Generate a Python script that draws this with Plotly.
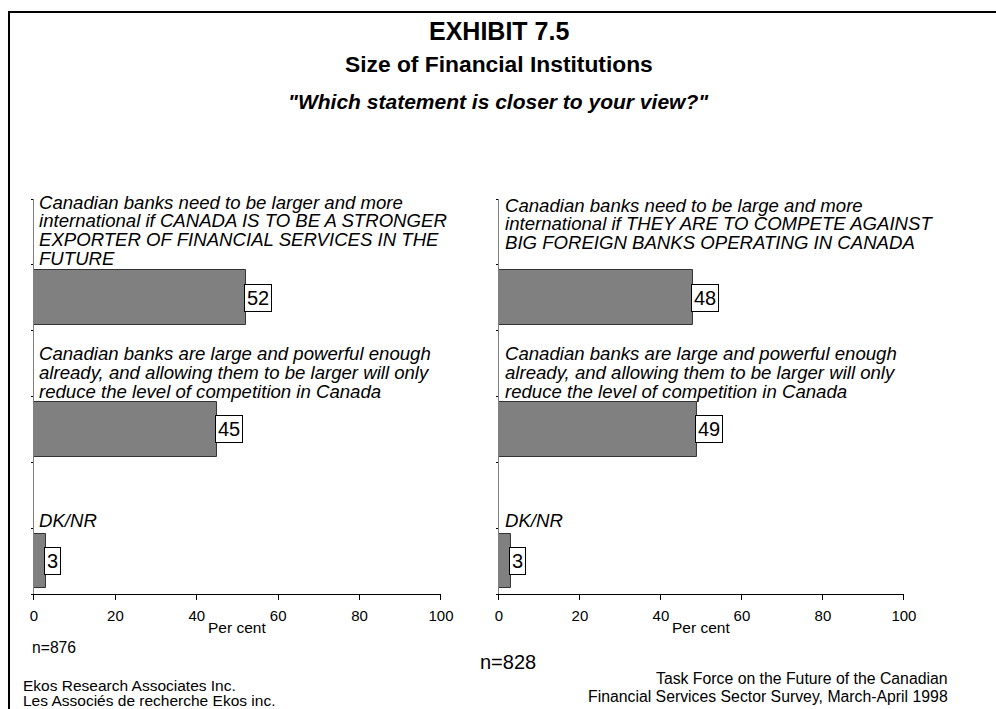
import plotly.graph_objects as go

# ---------------- data ----------------
left_labels = [
    ["Canadian banks need to be larger and more",
     "international if CANADA IS TO BE A STRONGER",
     "EXPORTER OF FINANCIAL SERVICES IN THE",
     "FUTURE"],
    ["Canadian banks are large and powerful enough",
     "already, and allowing them to be larger will only",
     "reduce the level of competition in Canada"],
    ["DK/NR"],
]
left_values = [52, 45, 3]

right_labels = [
    ["Canadian banks need to be large and more",
     "international if THEY ARE TO COMPETE AGAINST",
     "BIG FOREIGN BANKS OPERATING IN CANADA"],
    ["Canadian banks are large and powerful enough",
     "already, and allowing them to be larger will only",
     "reduce the level of competition in Canada"],
    ["DK/NR"],
]
right_values = [48, 49, 3]

x_ticks = [0, 20, 40, 60, 80, 100]
left_n = "n=876"
right_n = "n=828"
title_lines = ["EXHIBIT 7.5", "Size of Financial Institutions"]
subtitle = "\"Which statement is closer to your view?\""
source_right = ["Task Force on the Future of the Canadian",
                "Financial Services Sector Survey, March-April 1998"]
source_left = ["Ekos Research Associates Inc.",
               "Les Associés de recherche Ekos inc."]

# ---------------- layout helpers ----------------
W, H = 996, 709
FONT = "Liberation Sans, Arial, sans-serif"
HS = 0.983   # horizontal scale observed in the rendered photo
HO = 3.0     # horizontal offset observed in the rendered photo


def px(x):
    """target horizontal pixel -> paper coordinate"""
    return ((x - HO) / HS) / W


def py(y):
    return 1 - y / H


bar_pos = [1.5, 3.5, 5.5]          # slot centres (label slot above each bar)
slot_tops = [0, 2, 4]
line_step = 18.7

fig = go.Figure()

panels = [
    ("x", "y", left_values, left_labels, [3, 23, 58], 3),
    ("x2", "y2", right_values, right_labels, [6, 23, 58], 4),
]

annotations = []
for xa, ya, vals, labels, offs, xsh in panels:
    fig.add_trace(go.Bar(
        x=vals, y=bar_pos, orientation="h", width=0.83,
        marker=dict(color="#808080", line=dict(color="#333333", width=1)),
        xaxis=xa, yaxis=ya, showlegend=False, hoverinfo="x",
    ))
    for v, yc in zip(vals, bar_pos):
        annotations.append(dict(
            x=v, y=yc, xref=xa, yref=ya, xanchor="left", yanchor="middle",
            xshift=-2, text=str(v), showarrow=False,
            font=dict(family=FONT, size=20, color="black"),
            bgcolor="white", bordercolor="black", borderwidth=1, borderpad=2,
        ))
    for lines, top, off in zip(labels, slot_tops, offs):
        for i, ln in enumerate(lines):
            annotations.append(dict(
                x=0, y=top, xref=xa, yref=ya, xanchor="left", yanchor="middle",
                xshift=xsh, yshift=-(off + i * line_step),
                text="<i>" + ln + "</i>", showarrow=False,
                font=dict(family=FONT, size=18.6, color="black"),
            ))
    annotations.append(dict(
        x=50, y=py(627), xref=xa, yref="paper", xanchor="center", yanchor="middle",
        text="Per cent", showarrow=False,
        font=dict(family=FONT, size=15.5, color="black"),
    ))


def txt(x, y, s, size, xanchor="center", bold=False, italic=False):
    if italic:
        s = "<i>" + s + "</i>"
    if bold:
        s = "<b>" + s + "</b>"
    return dict(x=px(x), y=py(y), xref="paper", yref="paper", xanchor=xanchor,
                yanchor="middle", text=s, showarrow=False,
                font=dict(family=FONT, size=size, color="black"))


annotations += [
    txt(498, 31, title_lines[0], 25, bold=True),
    txt(498, 64, title_lines[1], 22.8, bold=True),
    txt(498, 101, subtitle, 21, bold=True, italic=True),
    txt(29, 647, left_n, 15.7, "left"),
    txt(477, 662, right_n, 20, "left"),
]
for i, ln in enumerate(source_right):
    annotations.append(txt(949, 678 + i * 18, ln, 15.8, "right"))
for i, ln in enumerate(source_left):
    annotations.append(txt(20, 685.5 + i * 15, ln, 15.5, "left"))

xaxis_common = dict(
    range=[0, 100], tickvals=x_ticks, ticks="outside", ticklen=5, tickcolor="black",
    showline=True, linecolor="black", linewidth=1, showgrid=False, zeroline=False,
    tickfont=dict(family=FONT, size=15, color="black"), ticklabelstandoff=3,
    fixedrange=True,
)
yaxis_common = dict(
    range=[6, 0], tickvals=[0, 1, 2, 3, 4, 5, 6], ticks="outside", ticklen=2,
    tickcolor="black", showticklabels=False, showline=True, linecolor="#808080",
    linewidth=1, showgrid=False, zeroline=False,
    domain=[py(594), py(199)], fixedrange=True,
)

shapes = [dict(type="rect", xref="paper", yref="paper",
               x0=px(8), x1=1.3, y0=-0.2, y1=py(12),
               line=dict(color="black", width=2))]

fig.update_layout(
    width=W, height=H,
    margin=dict(l=0, r=0, t=0, b=0),
    paper_bgcolor="white", plot_bgcolor="white",
    xaxis=dict(domain=[px(33), px(440)], anchor="y", **xaxis_common),
    xaxis2=dict(domain=[px(498), px(903)], anchor="y2", **xaxis_common),
    yaxis=dict(anchor="x", **yaxis_common),
    yaxis2=dict(anchor="x2", **yaxis_common),
    annotations=annotations,
    shapes=shapes,
    bargap=0,
)

fig.write_html(
    "out.html",
    config={"responsive": False, "displayModeBar": False},
    post_script="document.body.style.margin='0px';document.body.style.overflow='hidden';",
)
